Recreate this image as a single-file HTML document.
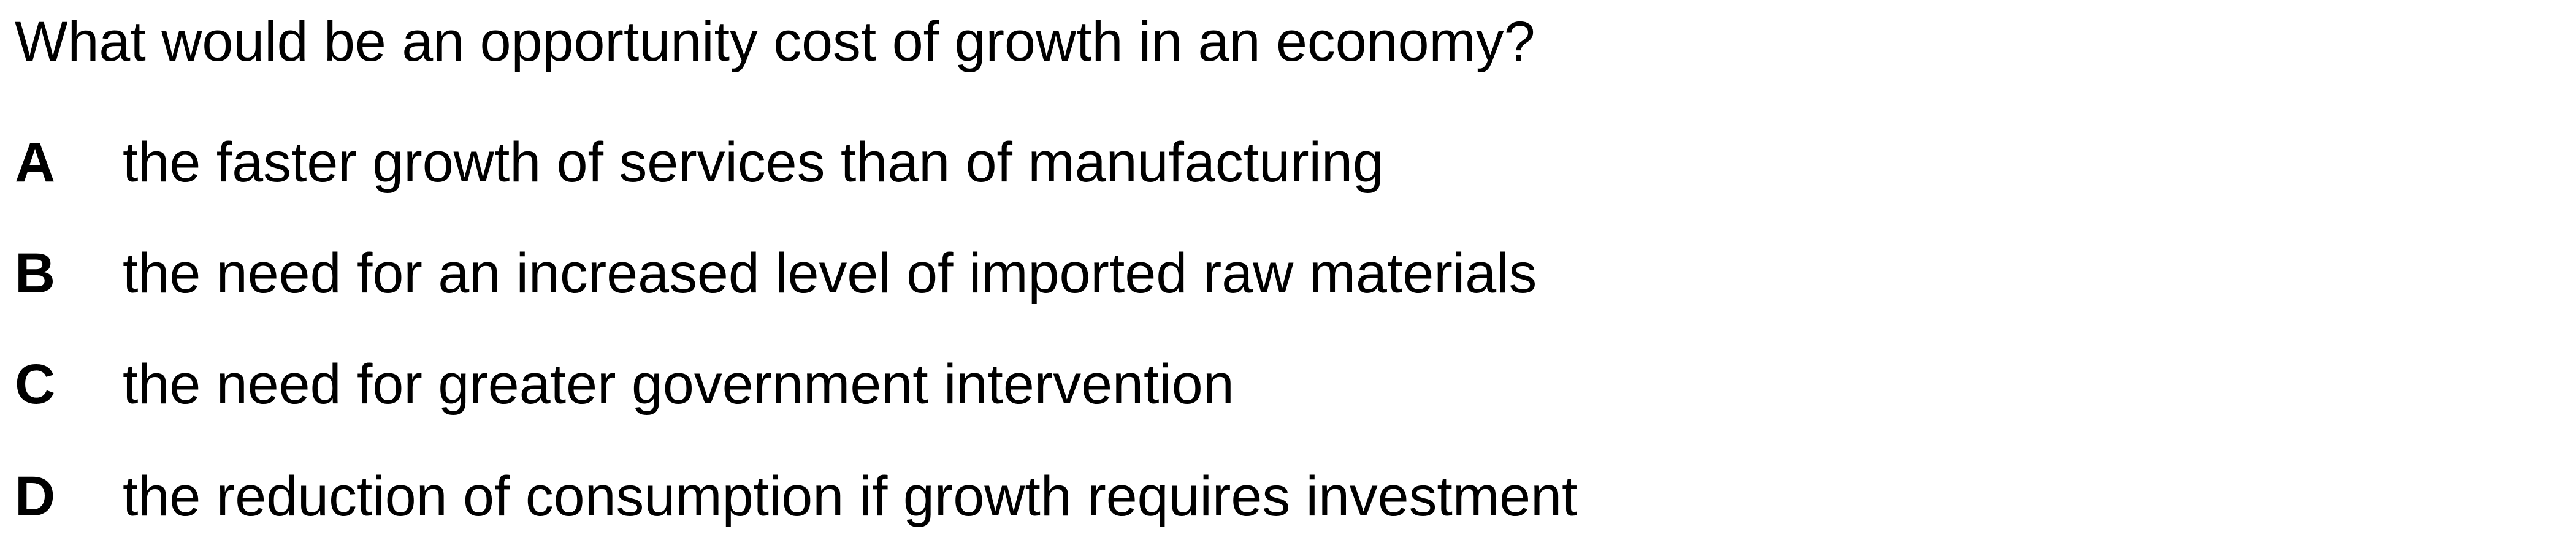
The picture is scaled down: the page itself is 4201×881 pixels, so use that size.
<!DOCTYPE html>
<html><head><meta charset="utf-8">
<style>
html,body{margin:0;padding:0;background:#fff;}
svg{display:block;}
text{font-family:"Liberation Sans",Arial,sans-serif;font-size:91.6px;fill:#000;}
.b{font-weight:bold;}
</style></head>
<body>
<svg width="4201" height="881" viewBox="0 0 4201 881">
<text x="24" y="99">What would be an opportunity cost of growth in an economy?</text>
<g>
<text class="b" x="24" y="296">A</text>
<text x="200" y="296">the faster growth of services than of manufacturing</text>
</g>
<g>
<text class="b" x="24" y="477">B</text>
<text x="200" y="477">the need for an increased level of imported raw materials</text>
</g>
<g>
<text class="b" x="24" y="658">C</text>
<text x="200" y="658">the need for greater government intervention</text>
</g>
<g>
<text class="b" x="24" y="841">D</text>
<text x="200" y="841">the reduction of consumption if growth requires investment</text>
</g>
</svg>
</body></html>
